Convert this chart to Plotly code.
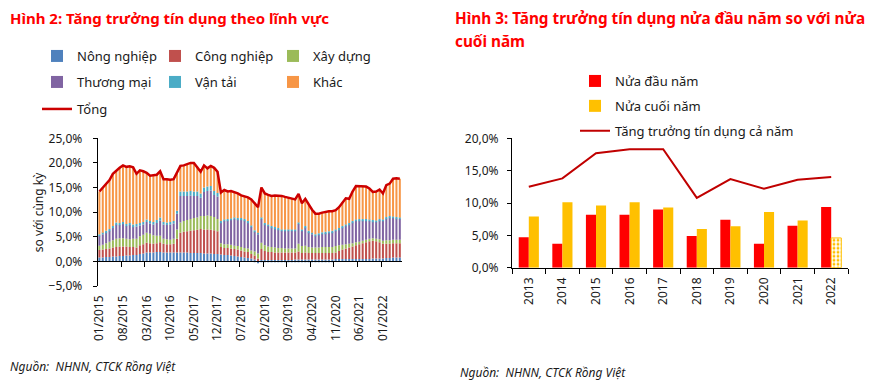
import numpy as np
import plotly.graph_objects as go

# ---------------- DATA: left chart (monthly, 01/2015 - 06/2022) ----------------
months = [f"{m:02d}/{y}" for y in range(2015, 2023) for m in range(1, 13)][:90]
tick_labels = ["01/2015", "08/2015", "03/2016", "10/2016", "05/2017", "12/2017", "07/2018",
               "02/2019", "09/2019", "04/2020", "11/2020", "06/2021", "01/2022"]

nong_nghiep = [0.8,0.8,0.9,0.9,1.0,1.0,1.1, 1.1,1.2,1.2,1.3,1.3,1.5,1.6, 1.8,1.8,1.8,1.9,1.9,1.8,1.8,
               1.8,1.8,1.8,1.8,1.8,1.8,1.7, 1.7,1.7,1.7,1.6,1.6,1.6,1.5, 1.5,1.4,1.3,1.3,1.2,1.1,1.0,
               0.9,0.8,0.7,0.6,0.4,-0.2,0.3, 0.3,0.3,0.3,0.3,0.3,0.3,0.3, 0.3,0.3,0.4,0.4,0.4,0.4,0.4,
               0.4,0.4,0.4,0.4,0.4,0.4,0.4, 0.5,0.5,0.5,0.5,0.5,0.5,0.5, 0.5,0.5,0.5,0.5,0.6,0.6,0.6,
               0.6,0.7,0.7,0.8,0.8,0.8]
cong_nghiep = [1.5,1.6,1.6,1.7,1.8,1.9,1.9, 1.9,1.8,1.7,1.6,1.5,1.8,1.9, 2.0,1.9,1.8,1.8,2.0,1.8,1.7,
               1.7,1.8,2.8,4.0,4.2,4.3,4.5, 4.6,4.7,4.9,4.9,4.9,4.8,4.8, 4.6,1.5,1.4,1.4,1.4,1.4,1.4,
               1.3,1.2,1.2,0.9,0.8,0.6,2.2, 1.8,1.6,1.6,1.5,1.5,1.5,1.5, 1.5,1.5,1.4,1.6,1.3,1.4,1.3,
               1.3,1.3,1.3,1.3,1.3,1.3,1.3, 1.3,1.6,1.9,2.1,2.3,2.5,2.8, 3.0,3.2,3.4,3.6,3.6,3.5,3.3,
               3.0,2.9,2.9,2.9,2.9,2.9]
xay_dung = [0.9,1.0,1.2,1.4,1.5,1.7,1.7, 1.7,1.6,1.6,1.7,1.8,1.8,1.9, 2.0,1.9,1.7,1.5,1.3,1.0,1.0,
            0.9,1.0,1.9,2.1,2.2,2.3,2.4, 2.5,2.5,2.6,2.7,2.8,2.8,2.7, 2.5,0.8,0.8,0.8,0.8,0.7,0.7,
            0.7,0.7,0.7,0.7,0.8,1.0,1.3, 1.2,1.1,1.0,1.0,0.9,0.9,0.8, 0.8,0.8,0.8,1.6,1.4,1.4,1.2,
            1.1,1.1,1.1,1.2,1.2,1.2,1.2, 1.3,1.2,1.0,0.9,0.8,0.7,0.6, 0.5,0.5,0.5,0.5,0.5,0.5,0.6,
            0.6,0.7,0.7,0.7,0.7,0.7]
thuong_mai = [2.0,2.1,2.2,2.2,2.5,2.9,2.7, 2.9,2.6,2.9,2.5,2.5,2.2,2.1, 2.2,2.1,2.2,2.6,3.1,2.9,2.9,
              3.1,3.1,3.2,5.4,5.1,4.9,4.8, 4.5,4.4,3.7,4.9,5.0,5.2,4.5, 4.6,4.2,4.7,4.8,5.0,5.4,5.4,
              5.6,5.6,5.3,4.8,4.0,3.9,4.8, 4.2,4.2,4.0,3.9,3.8,3.5,3.6, 3.6,3.6,3.6,4.0,3.1,3.7,3.0,
              2.7,2.4,2.6,2.7,2.8,2.9,3.0, 3.1,3.2,3.5,3.7,3.9,4.2,4.3, 4.3,4.1,3.9,3.6,3.4,3.4,3.8,
              4.0,4.4,4.6,4.4,4.3,4.2]
van_tai = [0.3,0.3,0.3,0.4,0.4,0.4,0.4, 0.4,0.4,0.4,0.4,0.5,0.5,0.5, 0.5,0.5,0.5,0.6,0.6,0.5,0.5,
           0.5,0.5,0.6,0.9,0.9,0.9,0.9, 0.9,0.9,0.9,0.9,0.9,0.9,0.8, 0.7,0.3,0.3,0.3,0.3,0.3,0.3,
           0.3,0.3,0.3,0.3,0.3,0.3,0.3, 0.3,0.3,0.3,0.3,0.3,0.3,0.3, 0.3,0.3,0.3,0.3,0.3,0.3,0.3,
           0.3,0.3,0.3,0.3,0.3,0.3,0.3, 0.3,0.3,0.3,0.3,0.3,0.3,0.3, 0.3,0.3,0.3,0.3,0.3,0.3,0.3,
           0.3,0.3,0.3,0.3,0.3,0.3]
khac = [8.7,9.2,9.6,9.9,10.6,10.6,11.2, 11.5,11.6,11.5,11.6,10.2,10.7,10.3, 9.5,9.2,9.5,9.2,9.4,8.7,8.8,
        8.6,8.5,7.6,5.2,5.3,5.5,5.7, 5.8,5.0,4.4,4.5,3.7,4.1,4.7, 4.3,5.8,6.0,5.6,5.6,5.2,5.0,
        4.6,4.6,4.8,5.3,5.6,5.2,6.1, 6.0,6.0,6.1,6.4,6.6,6.8,6.6, 6.4,6.3,6.1,5.8,5.3,5.5,5.4,
        4.7,4.2,4.0,4.0,4.1,4.1,4.0, 3.9,4.2,4.8,5.3,4.9,6.0,6.8, 6.7,6.6,6.6,6.3,5.7,5.9,6.0,
        5.3,6.5,6.6,7.7,7.9,7.9]
tong = [14.2,15.0,15.8,16.5,17.8,18.5,19.0,19.5,19.2,19.3, 19.1,17.8,18.5,18.3,18.0,17.4,17.5,17.6,18.3,16.7,
        16.7,16.6,16.7,17.9,19.4,19.5,19.7,20.0,20.0,19.2, 18.2,19.5,18.9,19.4,19.0,18.2,14.0,14.5,14.2,14.3,
        14.1,13.8,13.4,13.2,13.0,12.6,11.9,11.0,15.0,13.8, 13.5,13.3,13.4,13.4,13.3,13.1,12.9,12.8,12.6,13.7,
        11.8,12.7,11.6,10.5,9.7,9.7,9.9,10.1,10.2,10.2, 10.4,11.0,12.0,12.8,12.7,14.2,15.3,15.3,15.2,15.2,
        14.8,14.1,14.2,14.6,13.8,15.5,15.8,16.8,16.9,16.8]

# ---------------- DATA: right chart ----------------
years = ["2013", "2014", "2015", "2016", "2017", "2018", "2019", "2020", "2021", "2022"]
nua_dau = [4.7, 3.7, 8.2, 8.2, 9.0, 4.9, 7.4, 3.7, 6.5, 9.4]
nua_cuoi = [7.9, 10.1, 9.6, 10.1, 9.3, 6.0, 6.4, 8.6, 7.3, 4.6]
ca_nam = [12.5, 13.8, 17.7, 18.3, 18.3, 10.8, 13.7, 12.2, 13.6, 14.0]

# ---------------- layout helpers ----------------
W, H = 870, 385
def px(x):
    return x / W
def py(y):
    return 1 - y / H

FONT = "Noto Sans"
TXT = "#1a1a1a"

fig = go.Figure()

# stacked bars (left) drawn with explicit bases (global barmode is 'group' for the right chart)
series = [("Nông nghiệp", nong_nghiep, "#4F81BD", "legend"),
          ("Công nghiệp", cong_nghiep, "#C0504D", "legend"),
          ("Xây dựng", xay_dung, "#9BBB59", "legend"),
          ("Thương mại", thuong_mai, "#8064A2", "legend2"),
          ("Vận tải", van_tai, "#4BACC6", "legend2"),
          ("Khác", khac, "#F79646", "legend2")]
cum = np.zeros(len(months))
for name, vals, col, leg in series:
    v = np.array(vals, dtype=float)
    base = np.where(v < 0, 0.0, cum)
    fig.add_trace(go.Bar(x=months, y=v, base=base, name=name, marker_color=col,
                         marker_line_width=0, offsetgroup="stack", legend=leg,
                         xaxis="x", yaxis="y"))
    cum = cum + np.maximum(v, 0)

fig.add_trace(go.Scatter(x=months, y=tong, name="Tổng", mode="lines",
                         line=dict(color="#CC0000", width=2.5), legend="legend3",
                         xaxis="x", yaxis="y"))
# helper trace for the axis line at 0 with tick marks
fig.add_trace(go.Scatter(x=[], y=[], xaxis="x3", yaxis="y", showlegend=False, hoverinfo="skip"))

# right chart
fig.add_trace(go.Bar(x=years, y=nua_dau, name="Nửa đầu năm", marker_color="#FF0000",
                     marker_line_width=0, legend="legend4", legendgroup="a",
                     xaxis="x2", yaxis="y2"))
fig.add_trace(go.Bar(x=years, y=nua_cuoi, name="Nửa cuối năm",
                     marker=dict(color="#FFC000",
                                 line=dict(color="#FFC000", width=[0] * 9 + [1]),
                                 pattern=dict(shape=[""] * 9 + ["."], fillmode="replace",
                                              bgcolor="#FFFFFF", fgcolor="#FFC000",
                                              size=4, solidity=0.4)),
                     legend="legend4", legendgroup="b", xaxis="x2", yaxis="y2"))
fig.add_trace(go.Scatter(x=years, y=ca_nam, name="Tăng trưởng tín dụng cả năm", mode="lines",
                         line=dict(color="#C00000", width=2), legend="legend4", legendgroup="c",
                         xaxis="x2", yaxis="y2"))

# domains
L_dom_x = [px(97.7), px(401.5)]
L_dom_y = [py(286), py(138.3)]
R_dom_x = [px(512), px(848)]
R_dom_y = [py(267.7), py(138.3)]
zero_pos = L_dom_y[0] + (0 - (-5)) / 30 * (L_dom_y[1] - L_dom_y[0])

axfont = dict(family=FONT, size=12, color=TXT)
legfont = dict(family=FONT, size=13, color=TXT)

fig.update_layout(
    width=W, height=H, margin=dict(l=0, r=0, t=0, b=0),
    paper_bgcolor="white", plot_bgcolor="white",
    separators=", ", barmode="group", bargap=0.4, bargroupgap=0,
    font=dict(family=FONT, size=12, color=TXT),
    xaxis=dict(domain=L_dom_x, anchor="y", type="category", tickvals=tick_labels, ticktext=tick_labels,
               tickangle=-90, ticks="", showline=False, showgrid=False, tickfont=axfont,
               automargin=False, ticklabelstandoff=6, range=[-0.5, 89.5]),
    xaxis3=dict(overlaying="x", anchor="free", position=zero_pos, type="linear",
                range=[-0.5, 89.5], tickvals=[-0.5 + 7 * k for k in range(13)],
                ticks="outside", ticklen=5, tickcolor="black", showticklabels=False,
                showline=True, linecolor="black", linewidth=1, showgrid=False, zeroline=False,
                automargin=False),
    yaxis=dict(domain=L_dom_y, anchor="x", range=[-5, 25], dtick=5, tick0=0,
               tickformat=".1f", ticksuffix="%", showline=True, linecolor="black", linewidth=1,
               ticks="outside", ticklen=4, tickcolor="black", showgrid=False, zeroline=False,
               tickfont=axfont, automargin=False, ticklabelstandoff=8),
    xaxis2=dict(domain=R_dom_x, anchor="y2", type="category", tickangle=-90, ticks="outside",
                tickson="boundaries", ticklen=5, tickcolor="black", showline=True,
                linecolor="black", showgrid=False, tickfont=axfont, automargin=False,
                ticklabelstandoff=4),
    yaxis2=dict(domain=R_dom_y, anchor="x2", range=[0, 20], dtick=5, tickformat=".1f",
                ticksuffix="%", showline=True, linecolor="black", ticks="outside", ticklen=4,
                tickcolor="black", showgrid=False, zeroline=False, tickfont=axfont,
                automargin=False, ticklabelstandoff=6),
    legend=dict(orientation="h", x=px(37), y=py(56), xanchor="left", yanchor="middle",
                entrywidth=73, entrywidthmode="pixels", font=legfont,
                bgcolor="rgba(0,0,0,0)"),
    legend2=dict(orientation="h", x=px(37), y=py(82), xanchor="left", yanchor="middle",
                 entrywidth=73, entrywidthmode="pixels", font=legfont,
                 bgcolor="rgba(0,0,0,0)"),
    legend3=dict(orientation="h", x=px(37), y=py(109), xanchor="left", yanchor="middle",
                 font=legfont, bgcolor="rgba(0,0,0,0)"),
    legend4=dict(orientation="v", x=px(575), y=py(66), xanchor="left", yanchor="top",
                 tracegroupgap=5, font=legfont, bgcolor="rgba(0,0,0,0)"),
    showlegend=True,
)

title_font = dict(family=FONT, size=15, color="#FF0000")
annotations = [
    dict(text="<b>Hình 2: Tăng trưởng tín dụng theo lĩnh vực</b>", x=px(8), y=py(18),
         xanchor="left", yanchor="middle", font=title_font),
    dict(text="<b>Hình 3: Tăng trưởng tín dụng nửa đầu năm so với nửa</b>", x=px(453), y=py(18),
         xanchor="left", yanchor="middle", font=dict(family=FONT, size=15.3, color="#FF0000")),
    dict(text="<b>cuối năm</b>", x=px(453), y=py(41), xanchor="left", yanchor="middle",
         font=dict(family=FONT, size=15.3, color="#FF0000")),
    dict(text="so với cùng kỳ", x=px(38), y=(L_dom_y[0] + L_dom_y[1]) / 2, textangle=-90,
         xanchor="center", yanchor="middle", font=dict(family=FONT, size=12, color=TXT)),
    dict(text="<i>Nguồn:  NHNN, CTCK Rồng Việt</i>", x=px(8), y=py(366), xanchor="left",
         yanchor="middle", font=dict(family=FONT, size=12, color=TXT)),
    dict(text="<i>Nguồn:  NHNN, CTCK Rồng Việt</i>", x=px(458), y=py(372), xanchor="left",
         yanchor="middle", font=dict(family=FONT, size=12, color=TXT)),
]
for a in annotations:
    a.update(xref="paper", yref="paper", showarrow=False)
fig.update_layout(annotations=annotations)

# remove the page's default body margin so the figure sits at the window's top-left corner
fig.write_html("out.html", config={"displayModeBar": False},
               post_script="document.body.style.margin='0px';")
